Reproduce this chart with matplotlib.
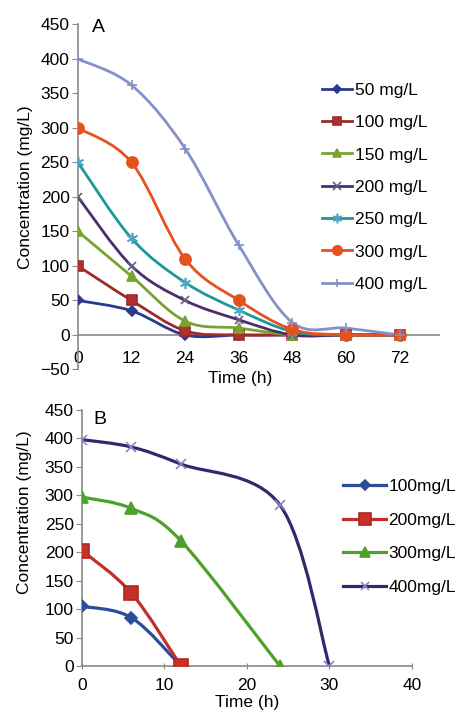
import numpy as np
import matplotlib
matplotlib.use("Agg")
import matplotlib.pyplot as plt
from matplotlib.path import Path
from matplotlib.patches import PathPatch
from matplotlib.lines import Line2D

plt.rcParams['font.family'] = ['Liberation Sans', 'DejaVu Sans']

# Panel A: time course at several initial concentrations
time_a = [0, 12, 24, 36, 48, 60, 72]
labels_a = ["50 mg/L", "100 mg/L", "150 mg/L", "200 mg/L", "250 mg/L", "300 mg/L", "400 mg/L"]
conc_50 = [50, 35, 0, 0, 0, 0, 0]
conc_100 = [100, 50, 6, 0, 0, 0, 0]
conc_150 = [150, 85, 20, 10, 0, 0, 0]
conc_200 = [200, 100, 50, 22, 0, 0, 0]
conc_250 = [250, 140, 76, 36, 5, 0, 0]
conc_300 = [300, 250, 110, 50, 8, 0, 0]
conc_400 = [400, 362, 270, 130, 18, 10, 0]
series_a = [conc_50, conc_100, conc_150, conc_200, conc_250, conc_300, conc_400]

# Panel B
labels_b = ["100mg/L", "200mg/L", "300mg/L", "400mg/L"]
time_b100 = [0, 6, 12]
conc_b100 = [105, 85, 0]
time_b200 = [0, 6, 12]
conc_b200 = [203, 128, 0]
time_b300 = [0, 6, 12, 24]
conc_b300 = [297, 277, 220, 0]
time_b400 = [0, 6, 12, 24, 30]
conc_b400 = [398, 385, 355, 283, 0]

# styles: (line colour, marker, marker size, marker face, marker edge)
style_a = [
    ("#2b3a8c", "D", 5, "#2b3a8c", "#2b3a8c"),
    ("#9e2a2b", "s", 7, "#b0302c", "#9e2a2b"),
    ("#79a330", "^", 7, "#79a330", "#79a330"),
    ("#4a2f6b", "x", 6, "#4a2f6b", "#6a5a8a"),
    ("#1d9898", (6, 2, 0), 8, "#1d9898", "#4aa8c0"),
    ("#e55220", "o", 8, "#e55220", "#e55220"),
    ("#8490c7", "+", 7, "#8490c7", "#8490c7"),
]
style_b = [
    ("#2c4c9c", "D", 6, "#2c4c9c", "#2c4c9c"),
    ("#c0302a", "s", 10, "#c8302a", "#a82a25"),
    ("#4ca12a", "^", 8, "#4ca12a", "#4ca12a"),
    ("#2e2a6c", "x", 7, "#8c84c4", "#8c84c4"),
]
AXIS_GRAY = "#8a8a8a"
FS = 12.5


def smooth_path(xs, ys):
    # Excel style smoothed line: cubic bezier through every point
    pts = np.column_stack([xs, ys]).astype(float)
    n = len(pts)
    verts = [pts[0]]
    codes = [Path.MOVETO]
    for i in range(n - 1):
        p0 = pts[i - 1] if i > 0 else pts[i]
        p1, p2 = pts[i], pts[i + 1]
        p3 = pts[i + 2] if i + 2 < n else pts[i + 1]
        verts += [p1 + (p2 - p0) / 6, p2 - (p3 - p1) / 6, p2]
        codes += [Path.CURVE4] * 3
    return Path(verts, codes)


def draw_series(ax, xs, ys, st, lw):
    color, mk, ms, mfc, mec = st
    ax.add_patch(PathPatch(smooth_path(xs, ys), fill=False, edgecolor=color, lw=lw, zorder=3))
    ax.plot(xs, ys, linestyle="none", marker=mk, markersize=ms, markerfacecolor=mfc,
            markeredgecolor=mec, markeredgewidth=1.2, zorder=4)
    return Line2D([], [], color=color, lw=lw, marker=mk, markersize=ms * 0.85,
                  markerfacecolor=mfc, markeredgecolor=mec, markeredgewidth=1.2)


fig = plt.figure(figsize=(4.64, 7.13), dpi=100)

# ---- Panel A ----
ax = fig.add_axes([0.168, 0.4818, 0.780, 0.4839])
handles = []
for ys, st in zip(series_a, style_a):
    handles.append(draw_series(ax, time_a, ys, st, 2.0))
ax.axhline(0, color=AXIS_GRAY, lw=1.2, zorder=1)
ax.set_xlim(0, 81)
ax.set_ylim(-50, 450)
ax.set_yticks(np.arange(-50, 451, 50))
ax.set_xticks(time_a)
for s in ["top", "right", "bottom"]:
    ax.spines[s].set_visible(False)
ax.spines["left"].set_color(AXIS_GRAY)
ax.spines["left"].set_linewidth(1.2)
ax.tick_params(axis="y", length=4, color=AXIS_GRAY, labelsize=FS, pad=2)
ax.tick_params(axis="x", length=0, labelsize=FS, pad=-13)
ax.set_xlabel("Time (h)", fontsize=FS)
ax.xaxis.set_label_coords(0.447, -0.005)
ax.set_ylabel("Concentration (mg/L)", fontsize=FS)
ax.yaxis.set_label_coords(-0.124, 0.529)
ax.legend(handles, labels_a, frameon=False, fontsize=FS, loc="upper left",
          bbox_to_anchor=(0.694, 0.884), bbox_transform=fig.transFigure,
          borderpad=0, borderaxespad=0, handlelength=1.75, handletextpad=0.15,
          labelspacing=0.99)
fig.text(98 / 464, 1 - 27 / 713, "A", fontsize=14, va="center", ha="center")

# ---- Panel B ----
bx = fig.add_axes([0.1767, 0.0659, 0.711, 0.359])
handles_b = []
for xs, ys, st in zip([time_b100, time_b200, time_b300, time_b400],
                      [conc_b100, conc_b200, conc_b300, conc_b400], style_b):
    handles_b.append(draw_series(bx, xs, ys, st, 2.3))
bx.set_xlim(0, 40)
bx.set_ylim(0, 450)
bx.set_yticks(np.arange(0, 451, 50))
bx.set_xticks(np.arange(0, 41, 10))
for s in ["top", "right"]:
    bx.spines[s].set_visible(False)
for s in ["left", "bottom"]:
    bx.spines[s].set_color(AXIS_GRAY)
    bx.spines[s].set_linewidth(1.2)
    bx.spines[s].set_zorder(1)
bx.tick_params(axis="both", length=4, color=AXIS_GRAY, labelsize=FS)
bx.tick_params(axis="y", pad=2)
bx.tick_params(axis="x", direction="inout", length=5, pad=6)
bx.set_xlabel("Time (h)", fontsize=FS)
bx.xaxis.set_label_coords(0.5, -0.115)
bx.set_ylabel("Concentration (mg/L)", fontsize=FS)
bx.yaxis.set_label_coords(-0.152, 0.60)
bx.legend(handles_b, labels_b, frameon=False, fontsize=FS, loc="upper left",
          bbox_to_anchor=(0.739, 0.328), bbox_transform=fig.transFigure,
          borderpad=0, borderaxespad=0, handlelength=2.5, handletextpad=0.12,
          labelspacing=1.06)
fig.text(100 / 464, 1 - 420 / 713, "B", fontsize=14, va="center", ha="center")

fig.savefig("out.png", dpi=100)
